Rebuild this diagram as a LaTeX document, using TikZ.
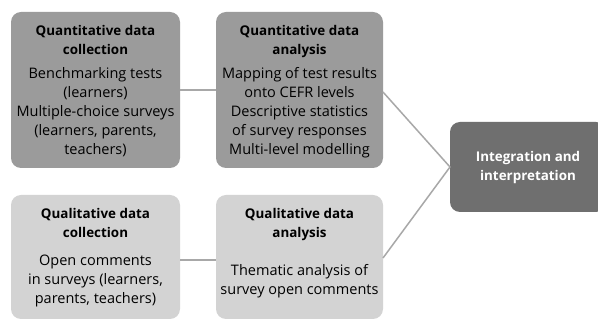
\documentclass[tikz,border=0pt]{standalone}
\usepackage{fontspec}
\setmainfont{Open Sans}
\definecolor{midgray}{HTML}{9B9B9B}
\definecolor{darkgray}{HTML}{6F6F6F}
\definecolor{lightgray}{HTML}{D3D3D3}
\definecolor{linegray}{HTML}{A8A8A8}
\newcommand{\ttl}[1]{{\fontsize{13.4}{19}\selectfont\bfseries #1}}
\begin{document}
\begin{tikzpicture}[x=1pt,y=-1pt,
  box/.style={rectangle, rounded corners=10pt, draw=none, inner sep=0pt, outer sep=0pt},
  txt/.style={align=center, inner sep=0pt, anchor=north, font=\fontsize{14.5}{19}\selectfont},
  link/.style={draw=linegray, line width=1.5pt}]
\useasboundingbox (0,0) rectangle (598,320);
\clip (0,0) rectangle (598,320);
\fill[white] (0,0) rectangle (598,320);
% boxes
\node[box, fill=midgray, minimum width=169pt, minimum height=156pt] (b1) at (95.5,90) {};
\node[box, fill=midgray, minimum width=167pt, minimum height=156pt] (b2) at (299.5,90) {};
\node[box, fill=lightgray, minimum width=169pt, minimum height=124pt] (b3) at (95.5,257) {};
\node[box, fill=lightgray, minimum width=167pt, minimum height=124pt] (b4) at (299.5,257) {};
\node[box, fill=darkgray, minimum width=156pt, minimum height=90pt] (b5) at (528,167) {};
% connectors
\coordinate (c1) at (b1.east |- 0,90);
\coordinate (c2) at (b2.west |- 0,90);
\coordinate (c3) at (b3.east |- 0,260);
\coordinate (c4) at (b4.west |- 0,260);
\coordinate (c5) at (b2.east |- 0,92);
\coordinate (c6) at (b4.east |- 0,258);
\draw[link] (c1) -- (c2);
\draw[link] (c3) -- (c4);
\draw[link] (c5) -- (b5.west);
\draw[link] (c6) -- (b5.west);
% texts
\node[txt] (t1) at (95.5,25) {\ttl{Quantitative data}\\\ttl{collection}\\[5pt]Benchmarking tests\\(learners)\\Multiple-choice surveys\\(learners, parents,\\teachers)};
\node[txt] (t2) at (299.5,25) {\ttl{Quantitative data}\\\ttl{analysis}\\[5pt]Mapping of test results\\onto CEFR levels\\Descriptive statistics\\of survey responses\\Multi-level modelling};
\node[txt] (t3) at (95.5,208) {\ttl{Qualitative data}\\\ttl{collection}\\[9pt]Open comments\\in surveys (learners,\\parents, teachers)};
\node[txt] (t4) at (299.5,208) {\ttl{Qualitative data}\\\ttl{analysis}\\[19pt]Thematic analysis of\\survey open comments};
\node[txt, anchor=center, text=white] (t5) at (528,167.5) {\ttl{Integration and}\\\ttl{interpretation}};
\end{tikzpicture}
\end{document}
